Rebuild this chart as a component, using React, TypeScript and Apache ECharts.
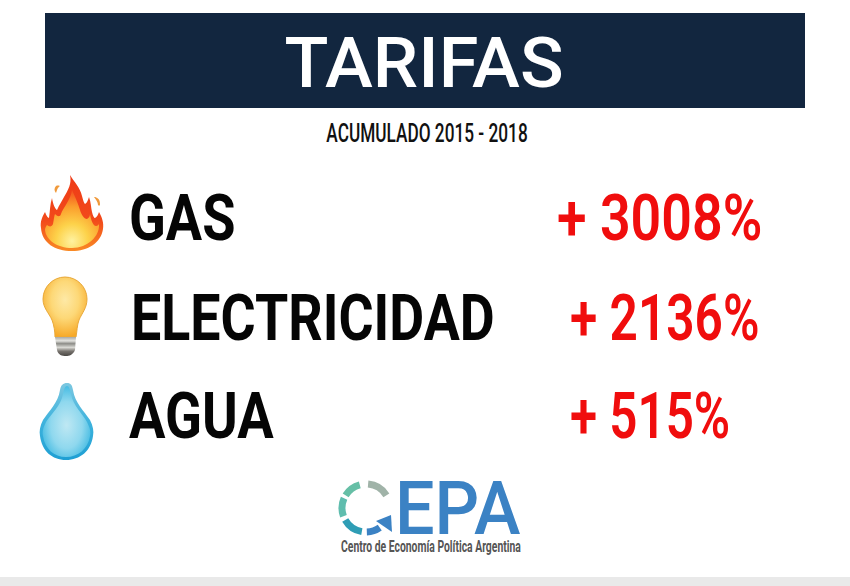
import React, { useEffect, useRef } from "react";
import * as echarts from "echarts";

const titleText = "TARIFAS";
const subtitleText = "ACUMULADO 2015 - 2018";
const categories = ["GAS", "ELECTRICIDAD", "AGUA"];
const increases = ["+ 3008%", "+ 2136%", "+ 515%"];
const logoWord = "EPA";
const logoCaption = "Centro de Economía Política Argentina";

const reg = (name: string, d: string) =>
  echarts.graphic.registerShape(name, echarts.graphic.extendPath(d, {}) as any);

reg("flameOuter", "M70 175 C74 182 80 187 82 196 C83 200 84 203 85 204 C87 203 88 200 89 197 C91 202 91 208 92 212 C93 216 94 218 95 218 C97 217 98 215 99 212 C102 217 104 223 103 229 C101 243 88 251 72 251 C55 251 42 243 41 228 C40 222 42 217 45 212 C46 215 48 218 49 218 C50 211 50 204 52 198 C53 204 55 209 57 210 C59 205 62 201 64 197 C68 190 72 184 70 175 Z");
reg("flameMid", "M72 190 C75 197 78 203 80 210 C81 214 84 219 87 219 C89 218 90 216 90 214 C91 220 93 226 96 226 C98 226 99 224 99 224 C100 236 88 248 72 248 C57 248 46 240 45 230 C45 228 46 226 47 225 C49 227 52 227 53 224 C54 219 54 216 55 214 C58 217 60 217 61 214 C63 208 71 199 72 190 Z");
reg("flameSparkA", "M56 186 C58 185 60 186 60 186 C57 188 57 191 56 193 C54 191 54 188 56 186 Z");
reg("flameSparkB", "M94 197 C97 197 100 199 100 204 C100 206 99 206 98 205 C98 202 96 200 94 197 Z");
reg("bulbGlass", "M65 277 C77 277 87 287 87 299 C87 308 82 313 79 320 C77 325 77 332 76 337 L55 337 C55 332 54 325 52 320 C49 313 43 308 43 299 C43 287 53 277 65 277 Z");
reg("bulbBase", "M55 337 L76 337 L75 350 C73 355 69 356 66 356 C62 356 58 355 57 350 Z");
reg("dropOuter", "M67 383 C71 383 72 385 73 390 C75 403 84 411 90 420 C93 426 94 431 93 436 C91 451 80 460 66 460 C52 460 42 451 40 436 C39 431 40 426 43 420 C49 411 58 403 60 390 C61 385 63 383 67 383 Z");
reg("dropInner", "M67 386 C69 386 70 389 71 394 C73 406 83 414 87 422 C90 428 91 432 90 436 C88 449 78 457 66 457 C54 457 45 449 43 436 C42 432 43 428 46 422 C51 414 61 406 63 394 C64 389 65 386 67 386 Z");

const lg = (stops: [number, string][], x = 0, y = 0, x2 = 0, y2 = 1) => ({
  type: "linear", x, y, x2, y2,
  colorStops: stops.map(([offset, color]) => ({ offset, color })),
});
const rg = (x: number, y: number, r: number, stops: [number, string][]) => ({
  type: "radial", x, y, r,
  colorStops: stops.map(([offset, color]) => ({ offset, color })),
});

const txt = (text: string, x: number, y: number, size: number, weight: any, fill: string, scaleX: number, align = "left", family = "Roboto") => ({
  type: "text", x, y, scaleX,
  style: { text, x: 0, y: 0, fontSize: size, fontWeight: weight, fontFamily: family, fill, align, verticalAlign: "middle" },
});

const arc = (r: number, startDeg: number, endDeg: number, stroke: string) => ({
  type: "arc",
  shape: { cx: 366, cy: 508, r, startAngle: (startDeg * Math.PI) / 180, endAngle: (endDeg * Math.PI) / 180, clockwise: true },
  style: { stroke, lineWidth: 7, fill: "none" },
});

export default function App() {
  const ref = useRef<HTMLDivElement>(null);
  useEffect(() => {
    document.body.style.margin = "0";
    const chart = echarts.init(ref.current!, null, { renderer: "svg" });
    const rowY = [218, 318, 416];
    const labelX = [129, 131, 129];
    const labelScale = [0.845, 0.84, 0.848];
    const valueX = [557, 570, 570];
    const valueScale = [0.84, 0.775, 0.77];
    const elements: any[] = [
      { type: "rect", shape: { x: 0, y: 0, width: 850, height: 586 }, style: { fill: "#ffffff" } },
      { type: "rect", shape: { x: 0, y: 577, width: 850, height: 9 }, style: { fill: "#e9e9e9" } },
      { type: "rect", shape: { x: 45, y: 13, width: 760, height: 95 }, style: { fill: "#12263f" } },
      txt(titleText, 424, 63, 70, 500, "#ffffff", 1.03, "center"),
      txt(subtitleText, 427, 133, 25, 500, "#111111", 0.69, "center"),
      { type: "flameOuter", style: { fill: lg([[0, "#ee3a16"], [0.6, "#f24a1b"], [1, "#f98a24"]]) } },
      { type: "flameMid", style: { fill: rg(0.5, 0.88, 0.85, [[0, "#fff2a0"], [0.35, "#fdd24a"], [0.7, "#fb9d2c"], [1, "#f4561f"]]) } },
      { type: "flameSparkA", style: { fill: "#f0993a" } },
      { type: "flameSparkB", style: { fill: "#f0993a" } },
      { type: "bulbGlass", style: { fill: rg(0.5, 0.38, 0.62, [[0, "#fee9a6"], [0.5, "#fdd877"], [1, "#f7a928"]]), stroke: "#e9a93a", lineWidth: 1 } },
      { type: "bulbBase", style: { fill: lg([[0, "#a9a9a4"], [0.2, "#e3e3df"], [0.35, "#8d8d88"], [0.55, "#d9d9d4"], [0.75, "#77736e"], [1, "#4b4844"]]) } },
      { type: "dropOuter", style: { fill: lg([[0, "#7cc7e0"], [0.5, "#3fb3dd"], [1, "#1e9fd3"]]) } },
      { type: "dropInner", style: { fill: rg(0.5, 0.55, 0.6, [[0, "#bfe8f3"], [0.55, "#8fd8ee"], [1, "#35b5e0"]]) } },
      arc(24, 212, 255, "#66bfa6"),
      arc(24, 160, 204, "#5fbdae"),
      arc(24, 275, 328, "#a0b3a8"),
      arc(24, 100, 150, "#2f9db5"),
      arc(24, 55, 88, "#3b82c4"),
      { type: "polygon", shape: { points: [[376, 521], [391, 515], [392, 532]] }, style: { fill: "#3b82c4" } },
      txt(logoWord, 395, 508.5, 74, 500, "#3b82c4", 0.947),
      txt(logoCaption, 341, 546, 17, 700, "#555555", 0.61),
    ];
    categories.forEach((c, i) => {
      elements.push(txt(c, labelX[i], rowY[i], 64, 700, "#050505", labelScale[i]));
      elements.push(txt(increases[i], valueX[i], rowY[i], 64, 600, "#f00d0d", valueScale[i]));
    });
    chart.setOption({ animation: false, graphic: { elements } });
    return () => chart.dispose();
  }, []);
  return <div ref={ref} style={{ width: 850, height: 586 }} />;
}
